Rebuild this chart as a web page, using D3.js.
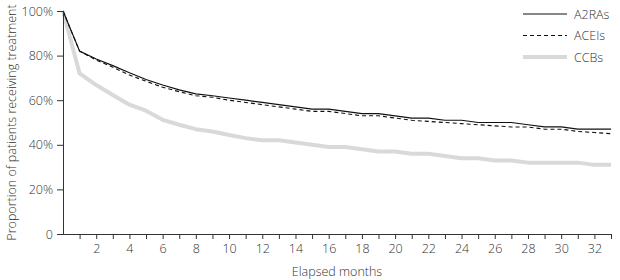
<!DOCTYPE html>
<html>
<head>
<meta charset="utf-8">
<script src="https://cdn.jsdelivr.net/npm/d3@7"></script>
<style>
  body { margin: 0; background: #fff; }
  svg text { font-family: "Open Sans", Lato, sans-serif; font-weight: 300; fill: #333; }
</style>
</head>
<body>
<svg id="chart"></svg>
<script>
const months = d3.range(0, 34);
const a2ras = [100, 82, 78.5, 75.5, 72.3, 69.3, 66.8, 64.6, 62.8, 62, 61, 60, 59, 58, 57, 56, 56,
  55, 54, 54, 53, 52, 52, 51, 51, 50, 50, 50, 49, 48, 48, 47, 47, 47];
const aceis = [100, 82, 78, 74.8, 71.3, 68.5, 65.8, 63.8, 62, 61.3, 60, 59, 58, 57, 56, 55, 55,
  54, 53, 53, 52, 51, 50.5, 50, 49.5, 49, 48.5, 48, 48, 47, 47, 46, 45.5, 45];
const ccbs = [100, 72, 66.8, 62.3, 58, 55.3, 51.2, 49, 47, 46, 44.4, 43, 42, 42, 41, 40, 39,
  39, 38, 37, 37, 36, 36, 35, 34, 34, 33, 33, 32, 32, 32, 32, 31, 31];
const series = [
  { name: "A2RAs", values: a2ras, color: "#111", width: 1.2, dash: null },
  { name: "ACEIs", values: aceis, color: "#111", width: 1.1, dash: "4,3" },
  { name: "CCBs", values: ccbs, color: "#d9d9d9", width: 4, dash: null }
];
const yTicks = [0, 20, 40, 60, 80, 100];
const xLabels = d3.range(2, 33, 2);

const width = 620;
const height = 280;
const fontSize = 12.5;

const svg = d3.select("#chart")
  .attr("width", width)
  .attr("height", height);

const x = d3.scaleLinear().domain([0, 33]).range([63, 611]);
const y = d3.scaleLinear().domain([0, 100]).range([234, 11]);

// lines first so axes sit on top
const line = d3.line()
  .x((d, i) => x(months[i]))
  .y(d => y(d));

series.slice().reverse().forEach(s => {
  svg.append("path")
    .datum(s.values)
    .attr("fill", "none")
    .attr("stroke", s.color)
    .attr("stroke-width", s.width)
    .attr("stroke-dasharray", s.dash)
    .attr("stroke-linejoin", "round")
    .attr("d", line);
});

// x axis
const xAxis = svg.append("g")
  .attr("transform", `translate(0,${y(0)})`)
  .call(d3.axisBottom(x)
    .tickValues(months.slice(1))
    .tickSize(5)
    .tickSizeOuter(0)
    .tickFormat(d => xLabels.includes(d) ? d : ""));

xAxis.select(".domain").attr("d", `M${x(0) - 6},0.5H${x(33)}`);

// y axis
const yAxis = svg.append("g")
  .attr("transform", `translate(${x(0)},0)`)
  .call(d3.axisLeft(y)
    .tickValues(yTicks)
    .tickSize(6)
    .tickSizeOuter(0)
    .tickFormat(d => d === 0 ? "0" : d + "%"));

svg.selectAll(".domain, .tick line").attr("stroke", "#333");
svg.selectAll(".tick text").attr("font-size", fontSize).style("fill", "#333");
xAxis.selectAll(".tick text").attr("dy", "0.85em");
yAxis.selectAll(".tick text").attr("x", -10);

// axis titles
svg.append("text")
  .attr("x", (x(0) + x(33)) / 2)
  .attr("y", 276)
  .attr("text-anchor", "middle")
  .attr("font-size", fontSize)
  .text("Elapsed months");

svg.append("text")
  .attr("transform", `translate(16,${(y(0) + y(100)) / 2}) rotate(-90)`)
  .attr("text-anchor", "middle")
  .attr("font-size", fontSize)
  .text("Proportion of patients receiving treatment");

// legend
const legend = svg.selectAll(".legend")
  .data(series)
  .enter().append("g")
  .attr("class", "legend")
  .attr("transform", (d, i) => `translate(523,${14 + i * 21.5})`);

legend.append("line")
  .attr("x1", 0).attr("x2", 44)
  .attr("stroke", d => d.color)
  .attr("stroke-width", d => d.width)
  .attr("stroke-dasharray", d => d.dash);

legend.append("text")
  .attr("x", 51)
  .attr("y", 4.5)
  .attr("font-size", fontSize)
  .text(d => d.name);
</script>
</body>
</html>
